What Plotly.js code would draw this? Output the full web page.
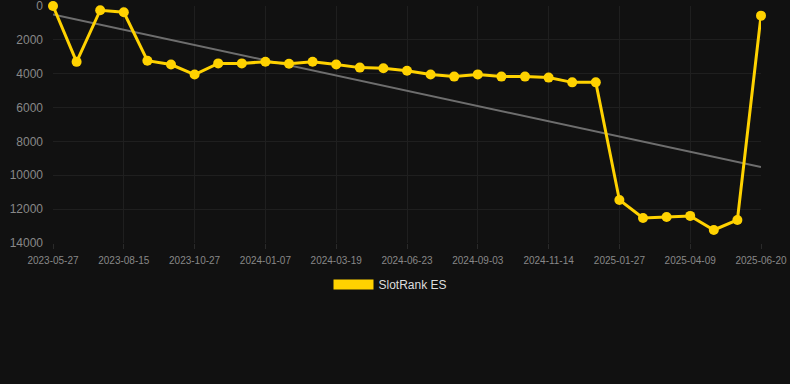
<!DOCTYPE html>
<html>
<head>
<meta charset="utf-8">
<script src="https://cdn.plot.ly/plotly-3.0.1.min.js"></script>
<style>html,body{margin:0;padding:0;background:#111111;}#chart{width:790px;height:384px;}</style>
</head>
<body>
<div id="chart"></div>
<script>
// Data
const tickLabels = ["2023-05-27","2023-08-15","2023-10-27","2024-01-07","2024-03-19","2024-06-23","2024-09-03","2024-11-14","2025-01-27","2025-04-09","2025-06-20"];
const rankValues = [0, 3300, 250, 370, 3230, 3460, 4050, 3390, 3390, 3290, 3410, 3290, 3460, 3640, 3680, 3820, 4050, 4170, 4040, 4170, 4170, 4230, 4510, 4510, 11460, 12520, 12460, 12400, 13230, 12640, 570];
const yTicks = [0, 2000, 4000, 6000, 8000, 10000, 12000, 14000];
const seriesName = "SlotRank ES";

const xIdx = rankValues.map((_, i) => i);
const tickVals = tickLabels.map((_, i) => i * 3);

// linear regression trend
const n = rankValues.length;
const mx = xIdx.reduce((a, b) => a + b, 0) / n;
const my = rankValues.reduce((a, b) => a + b, 0) / n;
let sxy = 0, sxx = 0;
for (let i = 0; i < n; i++) { sxy += (xIdx[i] - mx) * (rankValues[i] - my); sxx += (xIdx[i] - mx) ** 2; }
const slope = sxy / sxx;
const trendX = [xIdx[0], xIdx[n - 1]];
const trendY = trendX.map(x => my + slope * (x - mx));

const gold = "#FFD200";
const traces = [
  {x: trendX, y: trendY, mode: "lines", line: {color: "#6e6e6e", width: 2}, showlegend: false, hoverinfo: "skip", cliponaxis: false},
  {x: xIdx, y: rankValues, mode: "lines+markers", name: seriesName, line: {color: gold, width: 3}, marker: {color: gold, size: 10}, showlegend: false, cliponaxis: false},
  {x: [null], y: [null], mode: "lines", name: seriesName, line: {color: gold, width: 12}, showlegend: true}
];

const layout = {
  width: 790, height: 384,
  paper_bgcolor: "#111111", plot_bgcolor: "#111111",
  font: {family: "Liberation Sans, Arial, sans-serif", color: "#888888"},
  margin: {l: 53, r: 29, t: 6, b: 141, autoexpand: false},
  showlegend: true,
  legend: {orientation: "h", xref: "container", x: 0.4943, xanchor: "center", y: -0.114, yanchor: "top", itemwidth: 40, font: {size: 12, color: "#dddddd"}},
  xaxis: {
    range: [0, n - 1], tickmode: "array", tickvals: tickVals, ticktext: tickLabels, tickangle: 0,
    tickfont: {size: 10, color: "#888888"}, showgrid: true, gridcolor: "#1f1f1f", automargin: false,
    zeroline: false, showline: false, ticks: "outside", ticklen: 5, tickcolor: "#2a2a2a",
    ticklabelstandoff: 3, ticklabeloverflow: "allow"
  },
  yaxis: {
    range: [14000, 0], tickmode: "array", tickvals: yTicks, ticktext: yTicks.map(String), automargin: false,
    tickfont: {size: 12, color: "#888888"}, showgrid: true, gridcolor: "#1f1f1f",
    zeroline: false, showline: false, ticklabelstandoff: 9, ticklabeloverflow: "allow"
  }
};

Plotly.newPlot("chart", traces, layout, {displayModeBar: false, staticPlot: true});
</script>
</body>
</html>
